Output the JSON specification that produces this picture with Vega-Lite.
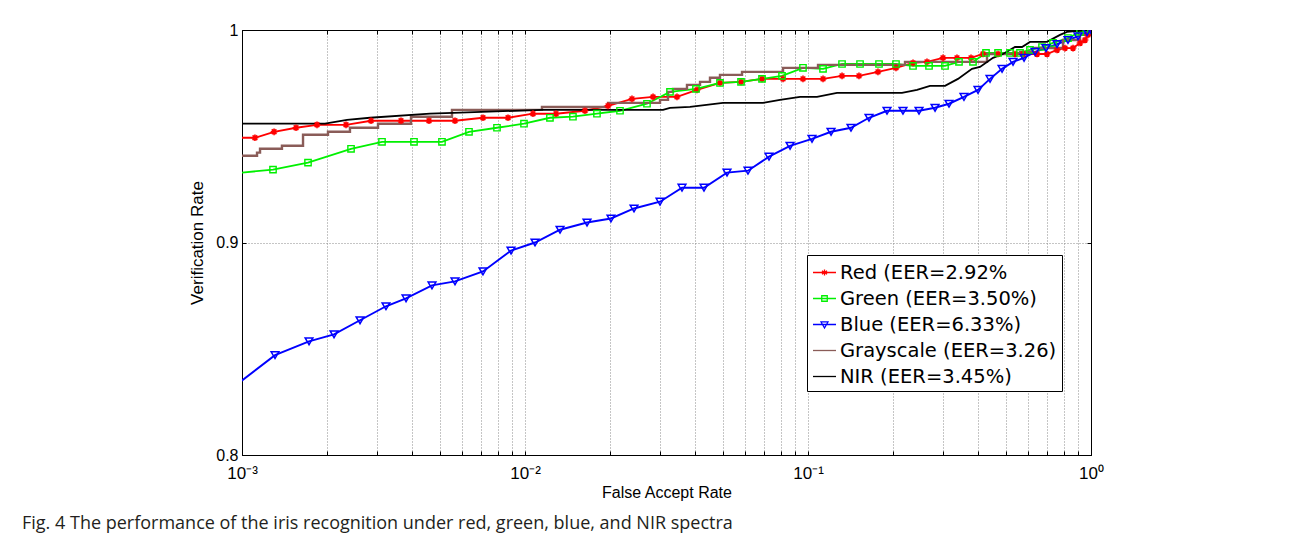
{
  "$schema": "https://vega.github.io/schema/vega-lite/v6.json",
  "width": 849,
  "height": 425,
  "autosize": {"type": "none"},
  "padding": {"left": 242, "top": 30, "right": 203, "bottom": 94},
  "background": "white",
  "title": {"text": "Fig. 4 The performance of the iris recognition under red, green, blue, and NIR spectra", "orient": "bottom", "anchor": "start", "frame": "group", "dx": -220, "offset": 15, "font": "Open Sans", "fontSize": 18, "fontWeight": "normal", "color": "#231f20"},
  "data": {"values": [
    {"series":"Red","far":0.00095,"vr":0.9493},{"series":"Red","far":0.001111,"vr":0.9493},{"series":"Red","far":0.001298,"vr":0.9521},{"series":"Red","far":0.001552,"vr":0.954},{"series":"Red","far":0.001841,"vr":0.9554},{"series":"Red","far":0.002331,"vr":0.9554},{"series":"Red","far":0.002857,"vr":0.9573},{"series":"Red","far":0.003646,"vr":0.9573},{"series":"Red","far":0.004579,"vr":0.9573},{"series":"Red","far":0.005657,"vr":0.9573},{"series":"Red","far":0.007105,"vr":0.9587},{"series":"Red","far":0.008709,"vr":0.9587},{"series":"Red","far":0.01067,"vr":0.9606},{"series":"Red","far":0.01287,"vr":0.9606},{"series":"Red","far":0.01629,"vr":0.962},{"series":"Red","far":0.01965,"vr":0.9643},{"series":"Red","far":0.02388,"vr":0.9676},{"series":"Red","far":0.02834,"vr":0.9685},{"series":"Red","far":0.03444,"vr":0.9685},{"series":"Red","far":0.04053,"vr":0.9718},{"series":"Red","far":0.04887,"vr":0.9751},{"series":"Red","far":0.05798,"vr":0.9756},{"series":"Red","far":0.06879,"vr":0.977},{"series":"Red","far":0.08162,"vr":0.977},{"series":"Red","far":0.096,"vr":0.977},{"series":"Red","far":0.113,"vr":0.977},{"series":"Red","far":0.1319,"vr":0.9784},{"series":"Red","far":0.1514,"vr":0.9784},{"series":"Red","far":0.1767,"vr":0.9803},{"series":"Red","far":0.2046,"vr":0.9822},{"series":"Red","far":0.235,"vr":0.9845},{"series":"Red","far":0.2633,"vr":0.985},{"series":"Red","far":0.2999,"vr":0.9869},{"series":"Red","far":0.3361,"vr":0.9869},{"series":"Red","far":0.3767,"vr":0.9869},{"series":"Red","far":0.4154,"vr":0.9887},{"series":"Red","far":0.4694,"vr":0.9887},{"series":"Red","far":0.5389,"vr":0.9887},{"series":"Red","far":0.5751,"vr":0.9887},{"series":"Red","far":0.6446,"vr":0.9887},{"series":"Red","far":0.699,"vr":0.9887},{"series":"Red","far":0.7584,"vr":0.9906},{"series":"Red","far":0.8092,"vr":0.9915},{"series":"Red","far":0.864,"vr":0.9915},{"series":"Red","far":0.9145,"vr":0.9939},{"series":"Red","far":0.9524,"vr":0.9953},{"series":"Red","far":0.9759,"vr":0.9977},{"series":"Red","far":1,"vr":1},
    {"series":"Green","far":0.00095,"vr":0.9326},{"series":"Green","far":0.001287,"vr":0.9343},{"series":"Green","far":0.001711,"vr":0.9376},{"series":"Green","far":0.002428,"vr":0.9441},{"series":"Green","far":0.003124,"vr":0.9474},{"series":"Green","far":0.004053,"vr":0.9474},{"series":"Green","far":0.005089,"vr":0.9474},{"series":"Green","far":0.00634,"vr":0.9521},{"series":"Green","far":0.007962,"vr":0.954},{"series":"Green","far":0.009919,"vr":0.9559},{"series":"Green","far":0.01225,"vr":0.9587},{"series":"Green","far":0.01477,"vr":0.9592},{"series":"Green","far":0.01796,"vr":0.9606},{"series":"Green","far":0.02166,"vr":0.962},{"series":"Green","far":0.02698,"vr":0.9653},{"series":"Green","far":0.03253,"vr":0.9709},{"series":"Green","far":0.04019,"vr":0.9723},{"series":"Green","far":0.04887,"vr":0.9751},{"series":"Green","far":0.05798,"vr":0.9756},{"series":"Green","far":0.06879,"vr":0.977},{"series":"Green","far":0.08095,"vr":0.9784},{"series":"Green","far":0.096,"vr":0.9822},{"series":"Green","far":0.113,"vr":0.9817},{"series":"Green","far":0.1319,"vr":0.984},{"series":"Green","far":0.1527,"vr":0.984},{"series":"Green","far":0.1782,"vr":0.984},{"series":"Green","far":0.2046,"vr":0.984},{"series":"Green","far":0.235,"vr":0.9831},{"series":"Green","far":0.2677,"vr":0.9831},{"series":"Green","far":0.3049,"vr":0.9831},{"series":"Green","far":0.3416,"vr":0.985},{"series":"Green","far":0.3828,"vr":0.985},{"series":"Green","far":0.4256,"vr":0.9892},{"series":"Green","far":0.4694,"vr":0.9892},{"series":"Green","far":0.5174,"vr":0.9892},{"series":"Green","far":0.5612,"vr":0.9892},{"series":"Green","far":0.6087,"vr":0.9906},{"series":"Green","far":0.6712,"vr":0.992},{"series":"Green","far":0.734,"vr":0.9939},{"series":"Green","far":0.8293,"vr":0.9962},{"series":"Green","far":0.9145,"vr":0.9991},{"series":"Green","far":1,"vr":1},
    {"series":"Blue","far":0.00095,"vr":0.8328},{"series":"Blue","far":0.001308,"vr":0.847},{"series":"Blue","far":0.001725,"vr":0.8535},{"series":"Blue","far":0.002114,"vr":0.8568},{"series":"Blue","far":0.002612,"vr":0.8634},{"series":"Blue","far":0.003227,"vr":0.87},{"series":"Blue","far":0.003798,"vr":0.8737},{"series":"Blue","far":0.004692,"vr":0.8798},{"series":"Blue","far":0.005657,"vr":0.8817},{"series":"Blue","far":0.007105,"vr":0.8864},{"series":"Blue","far":0.008925,"vr":0.8962},{"series":"Blue","far":0.01085,"vr":0.9},{"series":"Blue","far":0.0133,"vr":0.906},{"series":"Blue","far":0.01656,"vr":0.9094},{"series":"Blue","far":0.02013,"vr":0.9113},{"series":"Blue","far":0.02428,"vr":0.916},{"series":"Blue","far":0.03,"vr":0.9192},{"series":"Blue","far":0.03588,"vr":0.9258},{"series":"Blue","far":0.04291,"vr":0.9258},{"series":"Blue","far":0.05173,"vr":0.9329},{"series":"Blue","far":0.06138,"vr":0.9338},{"series":"Blue","far":0.07283,"vr":0.9404},{"series":"Blue","far":0.0864,"vr":0.9455},{"series":"Blue","far":0.1033,"vr":0.9488},{"series":"Blue","far":0.1206,"vr":0.9521},{"series":"Blue","far":0.1419,"vr":0.954},{"series":"Blue","far":0.1643,"vr":0.9587},{"series":"Blue","far":0.1902,"vr":0.962},{"series":"Blue","far":0.2166,"vr":0.962},{"series":"Blue","far":0.2468,"vr":0.962},{"series":"Blue","far":0.2811,"vr":0.9634},{"series":"Blue","far":0.315,"vr":0.9653},{"series":"Blue","far":0.3558,"vr":0.9685},{"series":"Blue","far":0.3988,"vr":0.9718},{"series":"Blue","far":0.4397,"vr":0.977},{"series":"Blue","far":0.4849,"vr":0.9817},{"series":"Blue","far":0.5302,"vr":0.985},{"series":"Blue","far":0.5799,"vr":0.9869},{"series":"Blue","far":0.6341,"vr":0.9897},{"series":"Blue","far":0.6934,"vr":0.9915},{"series":"Blue","far":0.7584,"vr":0.9934},{"series":"Blue","far":0.8293,"vr":0.9953},{"series":"Blue","far":0.8998,"vr":0.997},{"series":"Blue","far":0.968,"vr":0.999},{"series":"Blue","far":1,"vr":1},
    {"series":"Grayscale","far":0.00095,"vr":0.9408},{"series":"Grayscale","far":0.00113,"vr":0.9423},{"series":"Grayscale","far":0.001158,"vr":0.9441},{"series":"Grayscale","far":0.001384,"vr":0.9455},{"series":"Grayscale","far":0.001643,"vr":0.9507},{"series":"Grayscale","far":0.002013,"vr":0.9521},{"series":"Grayscale","far":0.002407,"vr":0.954},{"series":"Grayscale","far":0.003024,"vr":0.9559},{"series":"Grayscale","far":0.003955,"vr":0.9592},{"series":"Grayscale","far":0.005521,"vr":0.9624},{"series":"Grayscale","far":0.01148,"vr":0.9638},{"series":"Grayscale","far":0.01965,"vr":0.9657},{"series":"Grayscale","far":0.03,"vr":0.9671},{"series":"Grayscale","far":0.03201,"vr":0.9709},{"series":"Grayscale","far":0.03334,"vr":0.9723},{"series":"Grayscale","far":0.03736,"vr":0.9742},{"series":"Grayscale","far":0.04154,"vr":0.9756},{"series":"Grayscale","far":0.04505,"vr":0.9775},{"series":"Grayscale","far":0.04887,"vr":0.9789},{"series":"Grayscale","far":0.05846,"vr":0.9803},{"series":"Grayscale","far":0.08162,"vr":0.9822},{"series":"Grayscale","far":0.1085,"vr":0.9836},{"series":"Grayscale","far":0.2202,"vr":0.985},{"series":"Grayscale","far":0.4291,"vr":0.9887},{"series":"Grayscale","far":0.5612,"vr":0.9897},{"series":"Grayscale","far":0.6239,"vr":0.9915},{"series":"Grayscale","far":0.7963,"vr":0.9953},{"series":"Grayscale","far":0.9145,"vr":0.9977},{"series":"Grayscale","far":0.992,"vr":1},{"series":"Grayscale","far":1,"vr":1},
    {"series":"NIR","far":0.00095,"vr":0.9559},{"series":"NIR","far":0.001965,"vr":0.9559},{"series":"NIR","far":0.00235,"vr":0.9577},{"series":"NIR","far":0.002834,"vr":0.9587},{"series":"NIR","far":0.004616,"vr":0.9606},{"series":"NIR","far":0.005566,"vr":0.961},{"series":"NIR","far":0.01148,"vr":0.9624},{"series":"NIR","far":0.03074,"vr":0.9624},{"series":"NIR","far":0.03253,"vr":0.9634},{"series":"NIR","far":0.03828,"vr":0.9638},{"series":"NIR","far":0.05006,"vr":0.9657},{"series":"NIR","far":0.06935,"vr":0.9657},{"series":"NIR","far":0.07964,"vr":0.9671},{"series":"NIR","far":0.09371,"vr":0.9685},{"series":"NIR","far":0.1076,"vr":0.9685},{"series":"NIR","far":0.1266,"vr":0.9704},{"series":"NIR","far":0.2148,"vr":0.9704},{"series":"NIR","far":0.2428,"vr":0.9718},{"series":"NIR","far":0.2698,"vr":0.9737},{"series":"NIR","far":0.3049,"vr":0.9737},{"series":"NIR","far":0.3388,"vr":0.977},{"series":"NIR","far":0.3797,"vr":0.9817},{"series":"NIR","far":0.4053,"vr":0.9826},{"series":"NIR","far":0.4506,"vr":0.9869},{"series":"NIR","far":0.4887,"vr":0.9887},{"series":"NIR","far":0.5389,"vr":0.992},{"series":"NIR","far":0.5705,"vr":0.992},{"series":"NIR","far":0.6087,"vr":0.9944},{"series":"NIR","far":0.699,"vr":0.9944},{"series":"NIR","far":0.7772,"vr":0.9977},{"series":"NIR","far":0.8226,"vr":0.9991},{"series":"NIR","far":0.968,"vr":1},{"series":"NIR","far":1,"vr":1}
  ]},
  "resolve": {"axis": {"x": "independent", "y": "independent"}},
  "layer": [
    {
      "transform": [{"filter": "datum.series == 'Red'"}],
      "mark": {"type": "line", "clip": true, "strokeWidth": 1.8, "color": "#ff0000"},
      "encoding": {
        "x": {"field": "far", "type": "quantitative", "scale": {"type": "log", "domain": [0.001, 1], "nice": false},
          "axis": {"orient": "bottom", "values": [0.001,0.002,0.003,0.004,0.005,0.006,0.007,0.008,0.009,0.01,0.02,0.03,0.04,0.05,0.06,0.07,0.08,0.09,0.1,0.2,0.3,0.4,0.5,0.6,0.7,0.8,0.9,1],
            "labelExpr": "datum.value == 0.001 ? '10⁻³' : datum.value == 0.01 ? '10⁻²' : datum.value == 0.1 ? '10⁻¹' : datum.value == 1 ? '10⁰' : ''",
            "title": "False Accept Rate", "grid": true, "tickSize": -4, "labelPadding": 14, "labelFontSize": 17, "labelFlush": false, "labelOverlap": false, "titlePadding": 3}},
        "y": {"field": "vr", "type": "quantitative", "scale": {"domain": [0.8, 1], "nice": false, "zero": false},
          "axis": {"orient": "left", "values": [0.8, 0.9, 1], "labelExpr": "datum.value == 1 ? '1' : format(datum.value, '.1f')",
            "title": "Verification Rate", "titleFontSize": 17, "grid": true, "tickSize": -4, "labelPadding": 8, "titlePadding": 9}},
        "order": {"field": "far", "type": "quantitative"}
      }
    },
    {
      "transform": [{"filter": "datum.series == 'Green'"}],
      "mark": {"type": "line", "clip": true, "strokeWidth": 1.8, "color": "#00f000"},
      "encoding": {
        "x": {"field": "far", "type": "quantitative", "axis": null},
        "y": {"field": "vr", "type": "quantitative", "axis": null},
        "order": {"field": "far", "type": "quantitative"}
      }
    },
    {
      "transform": [{"filter": "datum.series == 'Blue'"}],
      "mark": {"type": "line", "clip": true, "strokeWidth": 1.9, "color": "#0000ff"},
      "encoding": {
        "x": {"field": "far", "type": "quantitative", "axis": null},
        "y": {"field": "vr", "type": "quantitative", "axis": null},
        "order": {"field": "far", "type": "quantitative"}
      }
    },
    {
      "transform": [{"filter": "datum.series == 'Grayscale'"}],
      "mark": {"type": "line", "clip": true, "strokeWidth": 2.4, "interpolate": "step-after", "color": "#8a5c58"},
      "encoding": {
        "x": {"field": "far", "type": "quantitative", "axis": null},
        "y": {"field": "vr", "type": "quantitative", "axis": null},
        "order": {"field": "far", "type": "quantitative"}
      }
    },
    {
      "transform": [{"filter": "datum.series == 'NIR'"}],
      "mark": {"type": "line", "clip": true, "strokeWidth": 1.8, "color": "#000000"},
      "encoding": {
        "x": {"field": "far", "type": "quantitative", "axis": null},
        "y": {"field": "vr", "type": "quantitative", "axis": null},
        "order": {"field": "far", "type": "quantitative"}
      }
    },
    {
      "transform": [{"filter": "datum.series == 'Red'"}],
      "mark": {"type": "point", "clip": true, "filled": false, "color": "#ff0000", "strokeWidth": 1.6, "size": 45, "opacity": 1,
        "shape": "M-1,0H1M0,-1V1M-0.7,-0.7L0.7,0.7M-0.7,0.7L0.7,-0.7"},
      "encoding": {
        "x": {"field": "far", "type": "quantitative", "axis": null},
        "y": {"field": "vr", "type": "quantitative", "axis": null}
      }
    },
    {
      "transform": [{"filter": "datum.series == 'Green'"}],
      "mark": {"type": "point", "clip": true, "filled": false, "color": "#00f000", "strokeWidth": 1.4, "size": 40, "opacity": 1, "shape": "square"},
      "encoding": {
        "x": {"field": "far", "type": "quantitative", "axis": null},
        "y": {"field": "vr", "type": "quantitative", "axis": null}
      }
    },
    {
      "transform": [{"filter": "datum.series == 'Blue'"}],
      "mark": {"type": "point", "clip": true, "filled": false, "color": "#0000ff", "strokeWidth": 1.5, "size": 60, "opacity": 1, "shape": "triangle-down"},
      "encoding": {
        "x": {"field": "far", "type": "quantitative", "axis": null},
        "y": {"field": "vr", "type": "quantitative", "axis": null}
      }
    },
    {
      "mark": {"type": "point", "clip": true, "filled": false, "opacity": 0},
      "encoding": {
        "x": {"field": "far", "type": "quantitative",
          "axis": {"orient": "top", "values": [0.001,0.002,0.003,0.004,0.005,0.006,0.007,0.008,0.009,0.01,0.02,0.03,0.04,0.05,0.06,0.07,0.08,0.09,0.1,0.2,0.3,0.4,0.5,0.6,0.7,0.8,0.9,1],
            "labels": false, "grid": false, "title": null, "tickSize": -4}},
        "y": {"field": "vr", "type": "quantitative",
          "axis": {"orient": "right", "values": [0.8, 0.9, 1], "labels": false, "grid": false, "title": null, "tickSize": -4}},
        "color": {"field": "series", "type": "nominal",
          "scale": {"domain": ["Red","Green","Blue","Grayscale","NIR"], "range": ["#ff0000","#00f000","#0000ff","#8a5c58","#000000"]},
          "legend": {"title": null, "orient": "none", "legendX": 565, "legendY": 225,
            "labelExpr": "datum.label == 'Red' ? 'Red (EER=2.92%' : datum.label == 'Green' ? 'Green (EER=3.50%)' : datum.label == 'Blue' ? 'Blue (EER=6.33%)' : datum.label == 'Grayscale' ? 'Grayscale (EER=3.26)' : 'NIR (EER=3.45%)'"}},
        "shape": {"field": "series", "type": "nominal",
          "scale": {"domain": ["Red","Green","Blue","Grayscale","NIR"], "range": [
            "M-1,0H1M0,-0.26V0.26M-0.22,-0.15L0.22,0.15M-0.22,0.15L0.22,-0.15",
            "M-1,0H1M-0.24,-0.24H0.24V0.24H-0.24Z",
            "M-1,0H1M-0.3,-0.22H0.3L0,0.3Z",
            "M-1,0H1",
            "M-1,0H1"]},
          "legend": {"title": null, "orient": "none", "legendX": 565, "legendY": 225,
            "labelExpr": "datum.label == 'Red' ? 'Red (EER=2.92%' : datum.label == 'Green' ? 'Green (EER=3.50%)' : datum.label == 'Blue' ? 'Blue (EER=6.33%)' : datum.label == 'Grayscale' ? 'Grayscale (EER=3.26)' : 'NIR (EER=3.45%)'"}}
      }
    }
  ],
  "config": {
    "font": "Liberation Sans",
    "view": {"stroke": "#000000", "strokeWidth": 1},
    "axis": {"domainColor": "#000000", "domainWidth": 1, "tickColor": "#000000", "tickWidth": 1,
      "labelFont": "Liberation Sans", "labelFontSize": 16, "labelColor": "#000000",
      "titleFont": "Liberation Sans", "titleFontSize": 16, "titleFontWeight": "normal", "titleColor": "#000000",
      "gridColor": "#8a8a8a", "gridDash": [1, 2], "gridWidth": 1, "gridOpacity": 1},
    "legend": {"fillColor": "#ffffff", "strokeColor": "#000000", "strokeWidth": 1, "padding": 5, "cornerRadius": 0,
      "labelFont": "DejaVu Sans", "labelFontSize": 19.5, "labelColor": "#000000", "labelLimit": 400, "labelOffset": 3,
      "symbolSize": 529, "symbolStrokeWidth": 1.3, "symbolOpacity": 1, "symbolFillColor": "transparent", "rowPadding": 4}
  }
}
